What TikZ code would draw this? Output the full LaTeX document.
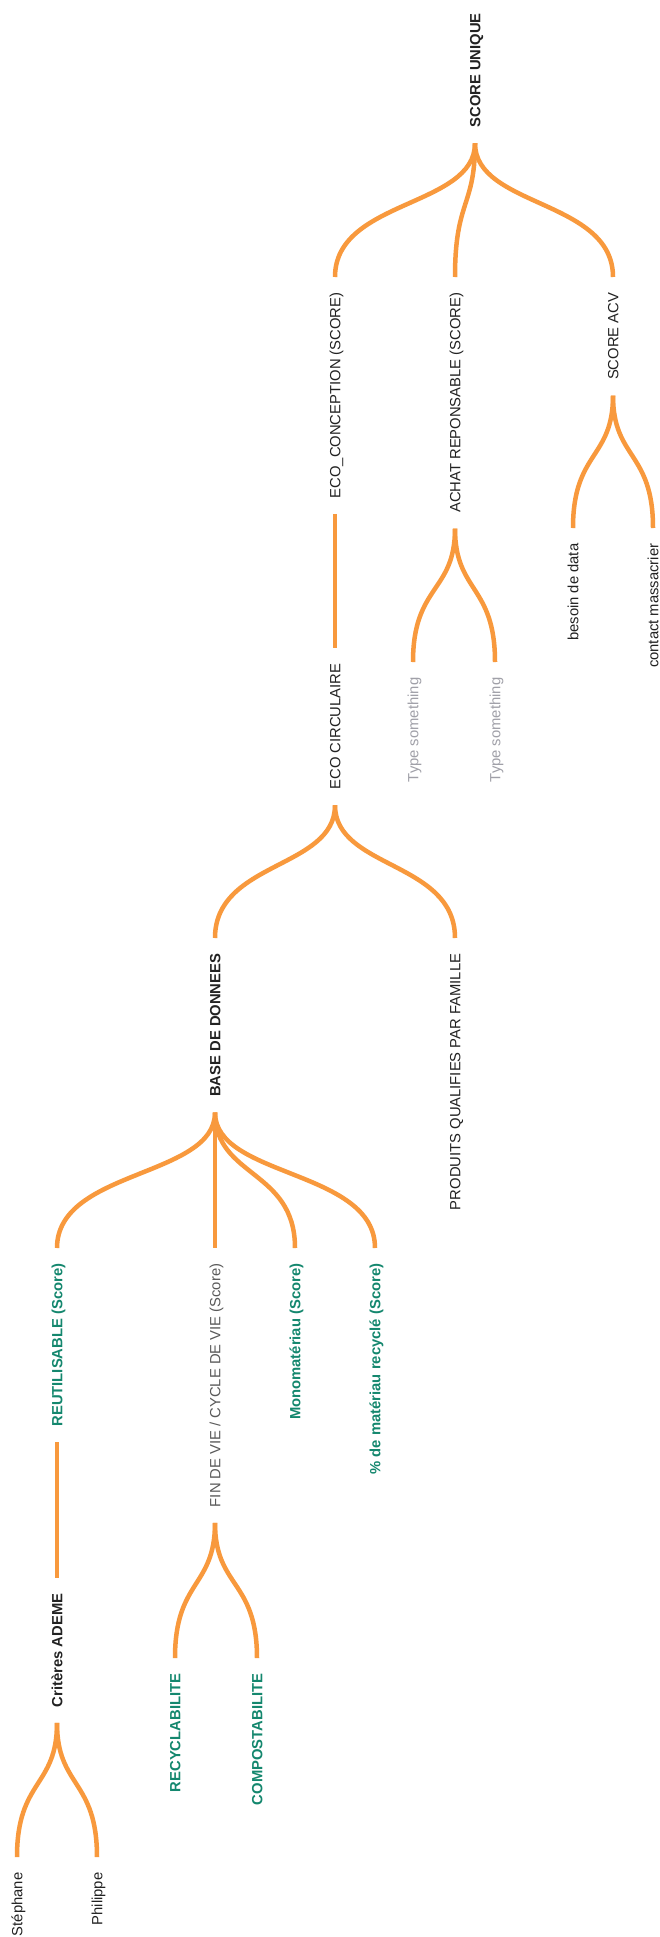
\documentclass[tikz,border=0pt]{standalone}
\usepackage{fontspec}
\setmainfont{Liberation Sans}
\usetikzlibrary{calc}
\definecolor{brorange}{HTML}{F8993D}
\definecolor{brgreen}{HTML}{14876E}
\definecolor{brlight}{HTML}{A0A0A8}
\definecolor{brgray}{HTML}{5A5A5A}
\definecolor{brdark}{HTML}{222222}
\tikzset{
  x=1pt, y=-1pt,
  item/.style={rotate=90, anchor=east, inner xsep=15.5pt, inner ysep=0pt,
    text height=10.6pt, text depth=0pt,
    font=\fontsize{14.8}{17}\selectfont, text=brdark},
  boldit/.style={item, font=\fontsize{14.8}{17}\selectfont\bfseries},
  greenit/.style={boldit, text=brgreen},
  lightit/.style={item, text=brlight},
  grayit/.style={item, text=brgray},
  conn/.style={draw=brorange, line width=4.5pt},
}
\newcommand\branch[2]{%
  \coordinate (brmida) at ($(#1.west)!0.48!(#2.east)$);
  \coordinate (brmidb) at ($(#1.west)!0.42!(#2.east)$);
  \draw[conn] (#1.west) .. controls (#1.west |- brmida) and (#2.east |- brmidb) .. (#2.east);
}
\begin{document}
\begin{tikzpicture}
\useasboundingbox[fill=white] (0,0) rectangle (660,1937);
% nodes
\node[boldit] (root) at (475,-2.5) {SCORE UNIQUE};
\node[item] (eco) at (335,277) {ECO\_CONCEPTION (SCORE)};
\node[item] (achat) at (455,277) {ACHAT REPONSABLE (SCORE)};
\node[item] (acv) at (613,277) {SCORE ACV};
\node[item] (besoin) at (573,528) {besoin de data};
\node[item] (contact) at (653,528) {contact massacrier};
\node[lightit] (ts1) at (413,662) {Type something};
\node[lightit] (ts2) at (495,662) {Type something};
\node[item] (ecocirc) at (335,648) {ECO CIRCULAIRE};
\node[boldit] (bdd) at (215,938) {BASE DE DONNEES};
\node[item] (prod) at (455,938) {PRODUITS QUALIFIES PAR FAMILLE};
\node[greenit] (reut) at (57,1248) {REUTILISABLE (Score)};
\node[grayit] (fin) at (215,1248) {FIN DE VIE / CYCLE DE VIE (Score)};
\node[greenit] (mono) at (295,1248) {Monomatériau (Score)};
\node[greenit] (pct) at (375,1248) {\% de matériau recyclé (Score)};
\node[boldit] (crit) at (57,1578) {Critères ADEME};
\node[item] (steph) at (17,1857) {Stéphane};
\node[item] (phil) at (97,1857) {Philippe};
\node[greenit] (recy) at (175,1658) {RECYCLABILITE};
\node[greenit] (compo) at (257,1658) {COMPOSTABILITE};
% connectors
\branch{root}{eco}
\branch{root}{achat}
\branch{root}{acv}
\branch{acv}{besoin}
\branch{acv}{contact}
\branch{achat}{ts1}
\branch{achat}{ts2}
\branch{eco}{ecocirc}
\branch{ecocirc}{bdd}
\branch{ecocirc}{prod}
\branch{bdd}{reut}
\branch{bdd}{fin}
\branch{bdd}{mono}
\branch{bdd}{pct}
\branch{reut}{crit}
\branch{crit}{steph}
\branch{crit}{phil}
\branch{fin}{recy}
\branch{fin}{compo}
\end{tikzpicture}
\end{document}
